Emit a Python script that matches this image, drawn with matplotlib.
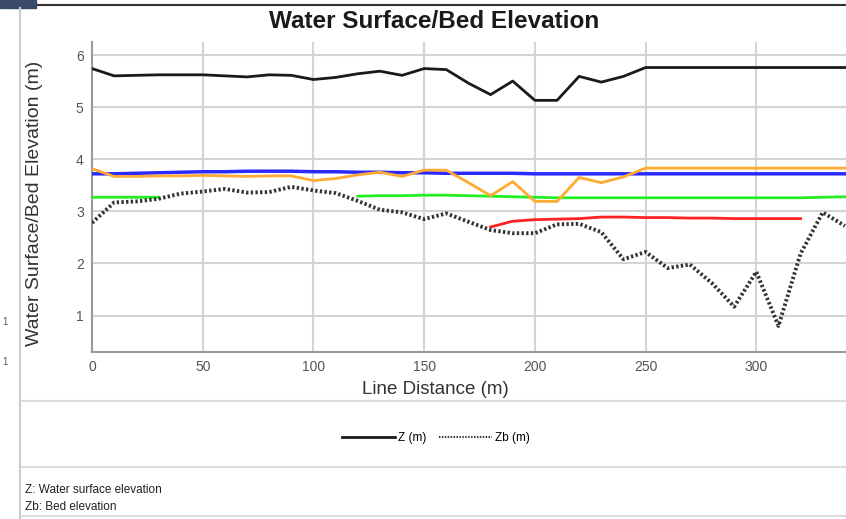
import numpy as np
import matplotlib
matplotlib.use('Agg')
import matplotlib.pyplot as plt
from matplotlib.lines import Line2D
from matplotlib.patches import Rectangle

plt.rcParams['font.family'] = ['Liberation Sans', 'DejaVu Sans']

# line distance (m), one station every 10 m
dist = np.arange(0, 350, 10)

z_ws = [5.74, 5.60, 5.61, 5.62, 5.62, 5.62, 5.60, 5.58, 5.62, 5.61,
        5.53, 5.57, 5.64, 5.69, 5.61, 5.74, 5.72, 5.46, 5.24, 5.50,
        5.13, 5.13, 5.59, 5.48, 5.59, 5.76, 5.76, 5.76, 5.76, 5.76,
        5.76, 5.76, 5.76, 5.76, 5.76]

zb_bed = [2.78, 3.17, 3.19, 3.24, 3.34, 3.38, 3.43, 3.36, 3.37, 3.47,
          3.40, 3.35, 3.20, 3.03, 2.98, 2.85, 2.96, 2.80, 2.64, 2.58,
          2.58, 2.75, 2.76, 2.60, 2.08, 2.22, 1.91, 1.98, 1.62, 1.17,
          1.84, 0.80, 2.19, 2.98, 2.72]

blue = [3.72, 3.72, 3.73, 3.74, 3.75, 3.76, 3.76, 3.77, 3.77, 3.77,
        3.76, 3.76, 3.75, 3.75, 3.74, 3.74, 3.73, 3.73, 3.73, 3.73,
        3.72, 3.72, 3.72, 3.72, 3.72, 3.72, 3.72, 3.72, 3.72, 3.72,
        3.72, 3.72, 3.72, 3.72, 3.72]

orange = [3.82, 3.67, 3.67, 3.68, 3.68, 3.69, 3.68, 3.67, 3.68, 3.68,
          3.59, 3.63, 3.70, 3.75, 3.67, 3.79, 3.79, 3.55, 3.30, 3.57,
          3.19, 3.19, 3.65, 3.55, 3.66, 3.83, 3.83, 3.83, 3.83, 3.83,
          3.83, 3.83, 3.83, 3.83, 3.83]

nan = np.nan
green = [3.27, 3.27, 3.27, 3.27, nan, nan, nan, nan, nan, nan,
         nan, nan, 3.29, 3.30, 3.30, 3.31, 3.31, 3.30, 3.29, 3.28,
         3.27, 3.26, 3.26, 3.26, 3.26, 3.26, 3.26, 3.26, 3.26, 3.26,
         3.26, 3.26, 3.26, 3.27, 3.28]

red = [nan, nan, nan, nan, nan, nan, nan, nan, nan, nan,
       nan, nan, nan, nan, nan, nan, nan, nan, 2.70, 2.81,
       2.84, 2.85, 2.86, 2.89, 2.89, 2.88, 2.88, 2.87, 2.87, 2.86,
       2.86, 2.86, 2.86, nan, nan]

x_ticks = [0, 50, 100, 150, 200, 250, 300]
y_ticks = [1, 2, 3, 4, 5, 6]

fig = plt.figure(figsize=(8.46, 5.19), dpi=100)
ax = fig.add_axes([92 / 846, 1 - 352 / 519, 1 - 92 / 846, 310 / 519])

ax.plot(dist, z_ws, color='#1a1a1a', lw=2, label='Z (m)', zorder=5)
ax.plot(dist, blue, color='#2a2aff', lw=2.5, zorder=3)
ax.plot(dist, orange, color='#ffaa33', lw=2, zorder=4)
ax.plot(dist, green, color='#22ee22', lw=2, zorder=3)
ax.plot(dist, red, color='#ff2222', lw=2, zorder=3)
ax.plot(dist, zb_bed, color='#333333', lw=2.8, ls=(0, (0.6, 0.6)),
        label='Zb (m)', zorder=6)

ax.set_xlim(0, 340.5)
ax.set_ylim(0.3, 6.25)
ax.set_xticks(x_ticks)
ax.set_yticks(y_ticks)
ax.grid(True, color='#d4d4d4', lw=1.5)
ax.set_axisbelow(True)
ax.tick_params(length=0, labelsize=10, labelcolor='#555555', pad=6)
for s in ['top', 'right']:
    ax.spines[s].set_visible(False)
for s in ['left', 'bottom']:
    ax.spines[s].set_color('#999999')
    ax.spines[s].set_linewidth(1.5)

fig.text(435 / 846, 1 - 390 / 519, 'Line Distance (m)', ha='center', va='center',
         fontsize=13.5, color='#333333')
fig.text(35 / 846, 1 - 203 / 519, 'Water Surface/Bed Elevation (m)', ha='center',
         va='center', rotation=90, fontsize=14, color='#333333')
fig.text(434 / 846, 1 - 22 / 519, 'Water Surface/Bed Elevation', ha='center',
         va='center', fontsize=17.5, fontweight='bold', color='#1a1a1a')

# legend for the two named series only
h1 = Line2D([], [], color='#1a1a1a', lw=2)
h2 = Line2D([], [], color='#333333', lw=1.5, ls=(0, (0.7, 0.7)))
fig.legend([h1, h2], ['Z (m)', 'Zb (m)'], loc='center',
           bbox_to_anchor=(436 / 846, 1 - 438 / 519), ncol=2, frameon=False,
           handlelength=4.5, handletextpad=0.3, columnspacing=1.0,
           prop={'size': 8.5})

fig.text(25 / 846, 1 - 490 / 519, 'Z: Water surface elevation', fontsize=8.5,
         va='center', color='#222222')
fig.text(25 / 846, 1 - 507 / 519, 'Zb: Bed elevation', fontsize=8.5,
         va='center', color='#222222')

# panel frame
for yy in [401, 467, 516]:
    fig.add_artist(Line2D([20 / 846, 1], [1 - yy / 519] * 2, color='#dddddd', lw=1.5))
fig.add_artist(Line2D([20 / 846] * 2, [0, 1 - 8 / 519], color='#cccccc', lw=1.5))
fig.add_artist(Line2D([38 / 846, 1], [1 - 5 / 519] * 2, color='#333333', lw=1.5))
fig.add_artist(Rectangle((0, 1 - 8 / 519), 36 / 846, 8 / 519, color='#3a4a6a',
                         transform=fig.transFigure))
fig.text(2 / 846, 1 - 322 / 519, '1', fontsize=7, color='#555555', va='center')
fig.text(2 / 846, 1 - 362 / 519, '1', fontsize=7, color='#555555', va='center')

fig.savefig('out.png', dpi=100)
